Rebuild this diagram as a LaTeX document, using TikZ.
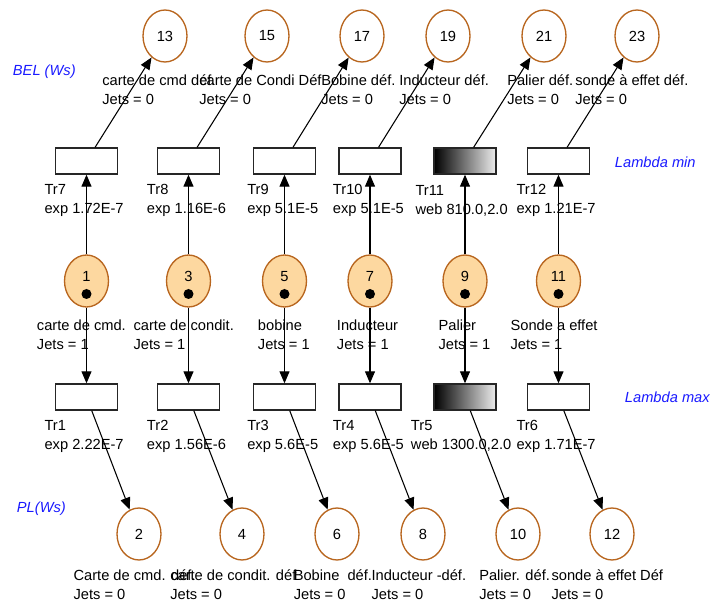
\documentclass[tikz,border=0pt]{standalone}
\usepackage{fontspec}
\setmainfont{Liberation Sans}
\usepackage{xcolor}
\usepackage{tikz}
\usetikzlibrary{arrows.meta,shapes.geometric}
\definecolor{placeline}{HTML}{B8661F}
\definecolor{placefill}{HTML}{FDD8A0}
\definecolor{noteblue}{HTML}{1A1AFF}
\tikzset{
  place/.style={ellipse, draw=placeline, line width=1pt, inner sep=0pt, minimum width=33pt, minimum height=39pt, font=\fontsize{11}{13}\selectfont},
  mplace/.style={place, fill=placefill, text depth=7.5pt},
  token/.style={circle, fill=black, inner sep=0pt, minimum size=7.5pt},
  trans/.style={rectangle, draw=black!85, line width=1pt, inner sep=0pt, minimum width=46.5pt, minimum height=19.5pt},
  wtrans/.style={trans, left color=black, right color=white!93!black},
  flow/.style={draw=black, line width=0.8pt, -{Triangle[length=9pt,width=7.5pt]}},
  lab/.style={anchor=west, align=left, inner sep=0pt, font=\fontsize{11}{14.25}\selectfont},
  note/.style={anchor=west, inner sep=0pt, text=noteblue, font=\fontsize{11}{13}\selectfont\itshape},
}
\begin{document}
\begin{tikzpicture}[x=0.75pt,y=-0.75pt]
  \useasboundingbox (0,0) rectangle (726,602);
  % row names
  \node[note] (bel) at (12.7,71.7) {BEL (Ws)};
  \node[note] (lmin) at (614.7,162) {Lambda min};
  \node[note] (lmax) at (624.7,397) {Lambda max};
  \node[note] (pl) at (16.7,509) {PL(Ws)};
  % top places
  \node[place] (p13) at (165,36) {13};
  \node[place] (p15) at (267,36) {15};
  \node[place] (p17) at (362,36) {17};
  \node[place] (p19) at (448,36) {19};
  \node[place] (p21) at (544,36) {21};
  \node[place] (p23) at (637,36) {23};
  \node[lab] (l13) at (102,90) {carte de cmd déf.\\Jets = 0};
  \node[lab] (l15) at (199,90) {carte de Condi Déf\\Jets = 0};
  \node[lab] (l17) at (321,90) {Bobine déf.\\Jets = 0};
  \node[lab] (l19) at (399,90) {Inducteur déf.\\Jets = 0};
  \node[lab] (l21) at (507,90) {Palier déf.\\Jets = 0};
  \node[lab] (l23) at (575,90) {sonde à effet déf.\\Jets = 0};
  % lambda min transitions
  \node[trans] (t7) at (86.5,161) {};
  \node[trans] (t8) at (188.5,161) {};
  \node[trans] (t9) at (284.5,161) {};
  \node[trans] (t10) at (370,161) {};
  \node[wtrans] (t11) at (465,161) {};
  \node[trans] (t12) at (558.5,161) {};
  \node[lab] (lt7) at (44.3,200.5) {Tr7\\exp 1.72E-7};
  \node[lab] (lt8) at (146.7,200.5) {Tr8\\exp 1.16E-6};
  \node[lab] (lt9) at (247,200.5) {Tr9\\exp 5.1E-5};
  \node[lab] (lt10) at (332.7,200.5) {Tr10\\exp 5.1E-5};
  \node[lab] (lt11) at (415.3,200.5) {Tr11\\web 810.0,2.0};
  \node[lab] (lt12) at (516.3,200.5) {Tr12\\exp 1.21E-7};
  % marked places
  \node[mplace] (p1) at (86.5,281) {1};
  \node[mplace] (p3) at (188.5,281) {3};
  \node[mplace] (p5) at (284.5,281) {5};
  \node[mplace] (p7) at (370,281) {7};
  \node[mplace] (p9) at (465,281) {9};
  \node[mplace] (p11) at (558.5,281) {11};
  \node[token] (k1) at (86.5,294) {};
  \node[token] (k3) at (188.5,294) {};
  \node[token] (k5) at (284.5,294) {};
  \node[token] (k7) at (370,294) {};
  \node[token] (k9) at (465,294) {};
  \node[token] (k11) at (558.5,294) {};
  \node[lab] (l1) at (36.7,334.5) {carte de cmd.\\Jets = 1};
  \node[lab] (l3) at (133.3,334.5) {carte de condit.\\Jets = 1};
  \node[lab] (l5) at (257.7,334.5) {bobine\\Jets = 1};
  \node[lab] (l7) at (336.7,334.5) {Inducteur\\Jets = 1};
  \node[lab] (l9) at (438.3,334.5) {Palier\\Jets = 1};
  \node[lab] (l11) at (510.3,334.5) {Sonde a effet\\Jets = 1};
  % lambda max transitions
  \node[trans] (t1) at (86.5,397) {};
  \node[trans] (t2) at (188.5,397) {};
  \node[trans] (t3) at (284.5,397) {};
  \node[trans] (t4) at (370,397) {};
  \node[wtrans] (t5) at (465,397) {};
  \node[trans] (t6) at (558.5,397) {};
  \node[lab] (lt1) at (44.3,436) {Tr1\\exp 2.22E-7};
  \node[lab] (lt2) at (146.7,436) {Tr2\\exp 1.56E-6};
  \node[lab] (lt3) at (247,436) {Tr3\\exp 5.6E-5};
  \node[lab] (lt4) at (332.7,436) {Tr4\\exp 5.6E-5};
  \node[lab] (lt5) at (410.7,436) {Tr5\\web 1300.0,2.0};
  \node[lab] (lt6) at (516.3,436) {Tr6\\exp 1.71E-7};
  % bottom places
  \node[place] (p2) at (139,534) {2};
  \node[place] (p4) at (242,534) {4};
  \node[place] (p6) at (337,534) {6};
  \node[place] (p8) at (423,534) {8};
  \node[place] (p10) at (518,534) {10};
  \node[place] (p12) at (612,534) {12};
  \node[lab] (l2) at (73.3,585) {Carte de cmd. déf.\\Jets = 0};
  \node[lab] (l4) at (170,585) {carte de condit. déf\\Jets = 0};
  \node[lab] (l6) at (293.5,585) {Bobine~~déf.\\Jets = 0};
  \node[lab] (l8) at (371.3,585) {Inducteur -déf.\\Jets = 0};
  \node[lab] (l10) at (479,585) {Palier. déf.\\Jets = 0};
  \node[lab] (l12) at (551.3,585) {sonde à effet Déf\\Jets = 0};
  % arcs
  \draw[flow] (p1) -- (t7);  \draw[flow] (t7) -- (p13);
  \draw[flow] (p3) -- (t8);  \draw[flow] (t8) -- (p15);
  \draw[flow] (p5) -- (t9);  \draw[flow] (t9) -- (p17);
  \draw[flow] (p7) -- (t10); \draw[flow] (t10) -- (p19);
  \draw[flow] (p9) -- (t11); \draw[flow] (t11) -- (p21);
  \draw[flow] (p11) -- (t12); \draw[flow] (t12) -- (p23);
  \draw[flow] (p1) -- (t1);  \draw[flow] (t1) -- (p2);
  \draw[flow] (p3) -- (t2);  \draw[flow] (t2) -- (p4);
  \draw[flow] (p5) -- (t3);  \draw[flow] (t3) -- (p6);
  \draw[flow] (p7) -- (t4);  \draw[flow] (t4) -- (p8);
  \draw[flow] (p9) -- (t5);  \draw[flow] (t5) -- (p10);
  \draw[flow] (p11) -- (t6); \draw[flow] (t6) -- (p12);
\end{tikzpicture}
\end{document}
